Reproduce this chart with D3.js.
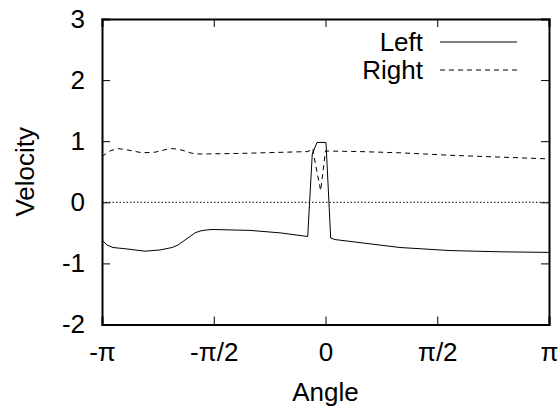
<!DOCTYPE html>
<html>
<head>
<meta charset="utf-8">
<script src="https://cdn.jsdelivr.net/npm/d3@7"></script>
<style>
  body { margin: 0; background: #fff; }
  text { font-family: "Liberation Sans", Arial, sans-serif; fill: #000; }
</style>
</head>
<body>
<svg id="chart" width="559" height="408"></svg>
<script>
// angle in radians, velocity values
var leftX = [-3.1416, -3.07, -2.987, -2.818, -2.537, -2.326, -2.157, -2.073, -1.99, -1.905, -1.834, -1.764, -1.69, -1.595, -1.061, -0.640, -0.250, -0.186, -0.119, 0.007, 0.073, 0.134, 0.485, 1.047, 1.750, 2.453, 3.1416];
var leftY = [-0.62, -0.70, -0.74, -0.76, -0.80, -0.78, -0.74, -0.70, -0.63, -0.56, -0.50, -0.47, -0.455, -0.445, -0.46, -0.50, -0.56, 0.79, 0.98, 0.98, -0.585, -0.61, -0.66, -0.74, -0.79, -0.81, -0.82];
var rightX = [-3.1416, -3.03, -2.917, -2.748, -2.579, -2.397, -2.256, -2.186, -2.115, -2.045, -1.975, -1.905, -1.834, -1.764, -1.202, -0.246, -0.176, -0.170, -0.068, 0.0, 0.485, 1.047, 1.750, 2.453, 3.1416];
var rightY = [0.75, 0.84, 0.88, 0.85, 0.81, 0.82, 0.86, 0.88, 0.875, 0.86, 0.84, 0.81, 0.795, 0.79, 0.80, 0.83, 0.88, 0.80, 0.19, 0.84, 0.83, 0.81, 0.77, 0.74, 0.71];
var xTicks = [-Math.PI, -Math.PI / 2, 0, Math.PI / 2, Math.PI];
var xTickLabels = ["-\u03c0", "-\u03c0/2", "0", "\u03c0/2", "\u03c0"];
var yTicks = [-2, -1, 0, 1, 2, 3];

var svg = d3.select("#chart");
var m = {left: 102, top: 19, right: 549, bottom: 324.5};
var fs = 26;

var x = d3.scaleLinear().domain([-Math.PI, Math.PI]).range([m.left, m.right]);
var y = d3.scaleLinear().domain([-2, 3]).range([m.bottom, m.top]);

// zero line
svg.append("line")
    .attr("x1", m.left).attr("x2", m.right)
    .attr("y1", y(0)).attr("y2", y(0))
    .attr("stroke", "#000").attr("stroke-width", 1)
    .attr("stroke-dasharray", "1.5,2");

var line = d3.line().x(function (d) { return x(d[0]); }).y(function (d) { return y(d[1]); });

svg.append("path")
    .datum(d3.zip(leftX, leftY))
    .attr("d", line)
    .attr("fill", "none").attr("stroke", "#000").attr("stroke-width", 1);

svg.append("path")
    .datum(d3.zip(rightX, rightY))
    .attr("d", line)
    .attr("fill", "none").attr("stroke", "#000").attr("stroke-width", 1)
    .attr("stroke-dasharray", "5,4");

// axes: gnuplot style, ticks inward and mirrored
var axB = svg.append("g").attr("transform", "translate(0," + m.bottom + ")")
    .call(d3.axisBottom(x).tickValues(xTicks).tickSize(-8).tickPadding(18)
        .tickFormat(function (d, i) { return xTickLabels[i]; }));
var axT = svg.append("g").attr("transform", "translate(0," + m.top + ")")
    .call(d3.axisTop(x).tickValues(xTicks).tickSize(-8).tickFormat(""));
var axL = svg.append("g").attr("transform", "translate(" + m.left + ",0)")
    .call(d3.axisLeft(y).tickValues(yTicks).tickSize(-8).tickPadding(17)
        .tickFormat(function (d) { return String(d); }));
var axR = svg.append("g").attr("transform", "translate(" + m.right + ",0)")
    .call(d3.axisRight(y).tickValues(yTicks).tickSize(-8).tickFormat(""));

[axB, axT, axL, axR].forEach(function (a) {
    a.select(".domain").attr("stroke", "#000").attr("stroke-width", 2);
    a.selectAll(".tick line").attr("stroke", "#000");
    a.selectAll("text").attr("font-size", fs).attr("font-family", "Liberation Sans, Arial, sans-serif").attr("fill", "#000");
});

svg.append("text").attr("x", x(0)).attr("y", 401)
    .attr("text-anchor", "middle").attr("font-size", fs).text("Angle");
svg.append("text").attr("transform", "translate(34," + ((m.top + m.bottom) / 2) + ") rotate(-90)")
    .attr("text-anchor", "middle").attr("font-size", fs).text("Velocity");

// legend
var legend = [["Left", null], ["Right", "5,4"]];
legend.forEach(function (d, i) {
    var ly = 42 + i * 28;
    svg.append("text").attr("x", 423).attr("y", ly + 9)
        .attr("text-anchor", "end").attr("font-size", fs).text(d[0]);
    svg.append("line").attr("x1", 440).attr("x2", 517).attr("y1", ly).attr("y2", ly)
        .attr("stroke", "#000").attr("stroke-width", 1)
        .attr("stroke-dasharray", d[1]);
});
</script>
</body>
</html>
